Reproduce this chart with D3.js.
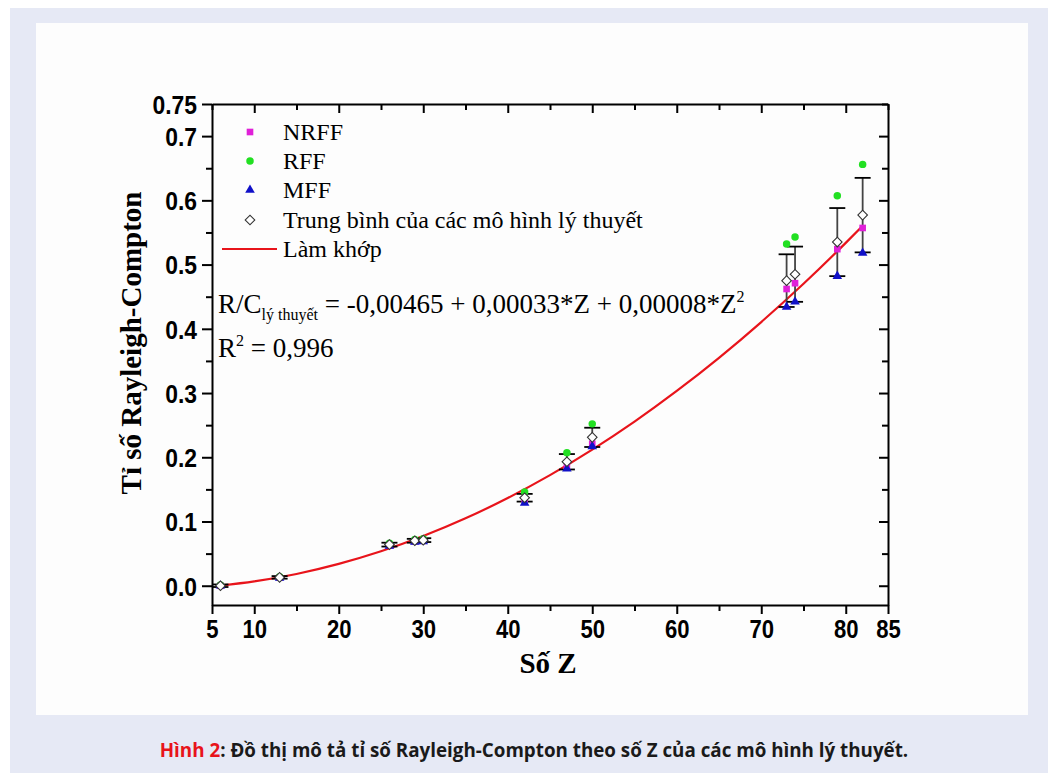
<!DOCTYPE html>
<html>
<head>
<meta charset="utf-8">
<script src="https://cdn.jsdelivr.net/npm/d3@7"></script>
<style>
  body { margin: 0; background: #fff; }
  svg { display: block; }
</style>
</head>
<body>
<div id="chart"></div>
<script>
// Data
var zVals = [6, 13, 26, 29, 30, 42, 47, 50, 73, 74, 79, 82];
var nrff  = [0.000, 0.013, 0.063, 0.069, 0.070, 0.135, 0.187, 0.221, 0.462, 0.471, 0.524, 0.557];
var rff   = [0.001, 0.014, 0.066, 0.072, 0.073, 0.146, 0.207, 0.252, 0.532, 0.543, 0.607, 0.656];
var mff   = [0.000, 0.012, 0.062, 0.068, 0.069, 0.129, 0.182, 0.217, 0.434, 0.442, 0.482, 0.518];
var meanV = [0.000, 0.013, 0.064, 0.070, 0.071, 0.137, 0.193, 0.231, 0.475, 0.485, 0.535, 0.577];
var errV  = [0.002, 0.002, 0.003, 0.003, 0.003, 0.006, 0.012, 0.015, 0.041, 0.043, 0.053, 0.058];

// fitted curve (Làm khớp), sampled off the red line
var fitZ   = [6, 10, 15, 20, 25, 30, 35, 40, 45, 50, 55, 60, 65, 70, 75, 80, 82];
var fitVal = [0.0002, 0.0067, 0.0183, 0.0340, 0.0536, 0.0773, 0.1049, 0.1366, 0.1722, 0.2119, 0.2555, 0.3032, 0.3548, 0.4105, 0.4701, 0.5338, 0.5603];

var xTickLabels = [5, 10, 20, 30, 40, 50, 60, 70, 80, 85];
var yTickLabels = [0, 0.1, 0.2, 0.3, 0.4, 0.5, 0.6, 0.7, 0.75];

var legendNames = ["NRFF", "RFF", "MFF", "Trung bình của các mô hình lý thuyết", "Làm khớp"];

var W = 1058, H = 773;
var svg = d3.select('#chart').append('svg')
    .attr('width', W)
    .attr('height', H);

// background panels
svg.append('rect').attr('x', 10).attr('y', 8).attr('width', 1038).attr('height', 765).attr('fill', '#e6e9f5');
svg.append('rect').attr('x', 36).attr('y', 23).attr('width', 992).attr('height', 692).attr('fill', '#fdfdfd');

var x = d3.scaleLinear().domain([5, 85]).range([212, 888]);
var y = d3.scaleLinear().domain([-0.03, 0.75]).range([605, 104]);

var tickFont = "'Liberation Sans', Arial, sans-serif";
var serif = "'Liberation Serif', 'Times New Roman', 'DejaVu Serif', serif";
function nfc(s){ return s.normalize('NFC'); }

// axes
var xAxisB = d3.axisBottom(x).tickValues(d3.range(5, 86, 5)).tickSizeOuter(0)
    .tickFormat(function(d){ return xTickLabels.indexOf(d) >= 0 ? d : ''; });
var gxb = svg.append('g').attr('transform', 'translate(0,' + y.range()[0] + ')').call(xAxisB);
gxb.selectAll('.tick line').attr('y2', function(d){ return (d % 10 === 0 || d === 5 || d === 85) ? 9 : 6; });
gxb.selectAll('.tick text').attr('y', 15).attr('dy', '0.71em')
    .attr('transform', 'scale(0.85,1)');

var xAxisT = d3.axisTop(x).tickValues(d3.range(5, 86, 5)).tickSizeOuter(0).tickFormat('');
var gxt = svg.append('g').attr('transform', 'translate(0,' + y.range()[1] + ')').call(xAxisT);
gxt.selectAll('.tick line').attr('y2', function(d){ return (d % 10 === 0) ? 9 : 6; });

var yTicks = d3.range(0, 16).map(function(i){ return +(i * 0.05).toFixed(2); });
var yAxisL = d3.axisLeft(y).tickValues(yTicks).tickSizeOuter(0)
    .tickFormat(function(d){
      if (d === 0.75) return '0.75';
      return (Math.round(d * 100) % 10 === 0) ? d.toFixed(1) : '';
    });
var gyl = svg.append('g').attr('transform', 'translate(' + x.range()[0] + ',0)').call(yAxisL);
gyl.selectAll('.tick line').attr('x2', function(d){ return (Math.round(d * 100) % 10 === 0 || d === 0.75) ? -10 : -6; });
gyl.selectAll('.tick text').attr('x', -15 / 0.88).attr('dy', '0.36em')
    .attr('transform', 'scale(0.88,1)');

var yAxisR = d3.axisRight(y).tickValues(yTicks).tickSizeOuter(0).tickFormat('');
var gyr = svg.append('g').attr('transform', 'translate(' + x.range()[1] + ',0)').call(yAxisR);
gyr.selectAll('.tick line').attr('x2', function(d){ return (Math.round(d * 100) % 10 === 0) ? -9 : -6; });

svg.selectAll('.domain').attr('stroke', '#000').attr('stroke-width', 2);
svg.selectAll('.tick line').attr('stroke', '#000').attr('stroke-width', 2);
svg.selectAll('.tick text')
    .style('font-family', tickFont)
    .style('font-weight', 'bold')
    .style('font-size', '26px')
    .attr('fill', '#000');

// axis titles
svg.append('text')
    .attr('transform', 'translate(141,343) rotate(-90)')
    .attr('text-anchor', 'middle')
    .style('font-family', serif).style('font-weight', 'bold').style('font-size', '29px')
    .text(nfc('Tỉ số Rayleigh-Compton'));

svg.append('text')
    .attr('x', 548).attr('y', 673)
    .attr('text-anchor', 'middle')
    .style('font-family', serif).style('font-weight', 'bold').style('font-size', '29px')
    .text(nfc('Số Z'));

// fitted curve
var line = d3.line()
    .x(function(d, i){ return x(fitZ[i]); })
    .y(function(d){ return y(d); })
    .curve(d3.curveMonotoneX);
svg.append('path')
    .datum(fitVal)
    .attr('d', line)
    .attr('fill', 'none')
    .attr('stroke', '#e8141b')
    .attr('stroke-width', 2.2);

// error bars
var eb = svg.append('g');
zVals.forEach(function(z, i){
  var cx = x(z), top = y(meanV[i] + errV[i]), bot = y(meanV[i] - errV[i]);
  eb.append('line').attr('x1', cx).attr('x2', cx).attr('y1', top).attr('y2', bot)
    .attr('stroke', '#444').attr('stroke-width', 1.8);
  [top, bot].forEach(function(yy){
    eb.append('line').attr('x1', cx - 8).attr('x2', cx + 8).attr('y1', yy).attr('y2', yy)
      .attr('stroke', '#000').attr('stroke-width', 1.8);
  });
});

var sqSym = d3.symbol().type(d3.symbolSquare).size(44);
var triSym = d3.symbol().type(d3.symbolTriangle).size(40);
var circSym = d3.symbol().type(d3.symbolCircle).size(44);
var diaSym = d3.symbol().type(d3.symbolSquare).size(46);

function drawSeries(vals, sym, fill, stroke, rot) {
  svg.append('g').selectAll('path')
    .data(vals)
    .enter().append('path')
    .attr('d', sym)
    .attr('transform', function(d, i){ return 'translate(' + x(zVals[i]) + ',' + y(d) + ')' + (rot ? ' rotate(45)' : ''); })
    .attr('fill', fill)
    .attr('stroke', stroke || 'none')
    .attr('stroke-width', 1.1);
}
drawSeries(nrff, sqSym, '#e020d8');
drawSeries(rff, circSym, '#22e022');
drawSeries(mff, triSym, '#1010c8');
drawSeries(meanV, diaSym, '#fff', '#333', true);

// legend
var legX = 250, legTextX = 283, legY = [132, 161, 190, 220, 249];
var leg = svg.append('g');
leg.append('path').attr('d', sqSym).attr('transform', 'translate(' + legX + ',' + legY[0] + ')').attr('fill', '#e020d8');
leg.append('path').attr('d', circSym).attr('transform', 'translate(' + legX + ',' + legY[1] + ')').attr('fill', '#22e022');
leg.append('path').attr('d', triSym).attr('transform', 'translate(' + legX + ',' + legY[2] + ')').attr('fill', '#1010c8');
leg.append('path').attr('d', diaSym).attr('transform', 'translate(' + legX + ',' + legY[3] + ') rotate(45)')
    .attr('fill', '#fff').attr('stroke', '#333').attr('stroke-width', 1.1);
leg.append('line').attr('x1', 222).attr('x2', 277).attr('y1', legY[4]).attr('y2', legY[4])
    .attr('stroke', '#e8141b').attr('stroke-width', 2.2);
leg.selectAll('text.leg')
    .data(legendNames)
    .enter().append('text')
    .attr('class', 'leg')
    .attr('x', legTextX)
    .attr('y', function(d, i){ return legY[i] + 8; })
    .style('font-family', serif).style('font-size', '24px')
    .text(function(d){ return nfc(d); });

// equation
var eq = svg.append('text').attr('x', 218).attr('y', 313)
    .style('font-family', serif).style('font-size', '27px');
eq.append('tspan').text('R/C');
eq.append('tspan').attr('dy', 7).style('font-size', '16px').text(nfc('lý thuyết'));
eq.append('tspan').attr('dy', -7).text(' = -0,00465 + 0,00033*Z + 0,00008*Z');
eq.append('tspan').attr('dy', -11).style('font-size', '16px').text('2');

var r2 = svg.append('text').attr('x', 218).attr('y', 357)
    .style('font-family', serif).style('font-size', '27px');
r2.append('tspan').text('R');
r2.append('tspan').attr('dy', -11).style('font-size', '16px').text('2');
r2.append('tspan').attr('dy', 11).text(' = 0,996');

// caption
var cap = svg.append('text').attr('x', 534).attr('y', 757)
    .attr('text-anchor', 'middle')
    .style('font-family', "'Open Sans', 'Noto Sans', sans-serif")
    .style('font-weight', 'bold').style('font-size', '18.8px');
cap.append('tspan').attr('fill', '#e8141b').text(nfc('Hình 2'));
cap.append('tspan').attr('fill', '#1a1a1a').text(nfc(': Đồ thị mô tả tỉ số Rayleigh-Compton theo số Z của các mô hình lý thuyết.'));
</script>
</body>
</html>
